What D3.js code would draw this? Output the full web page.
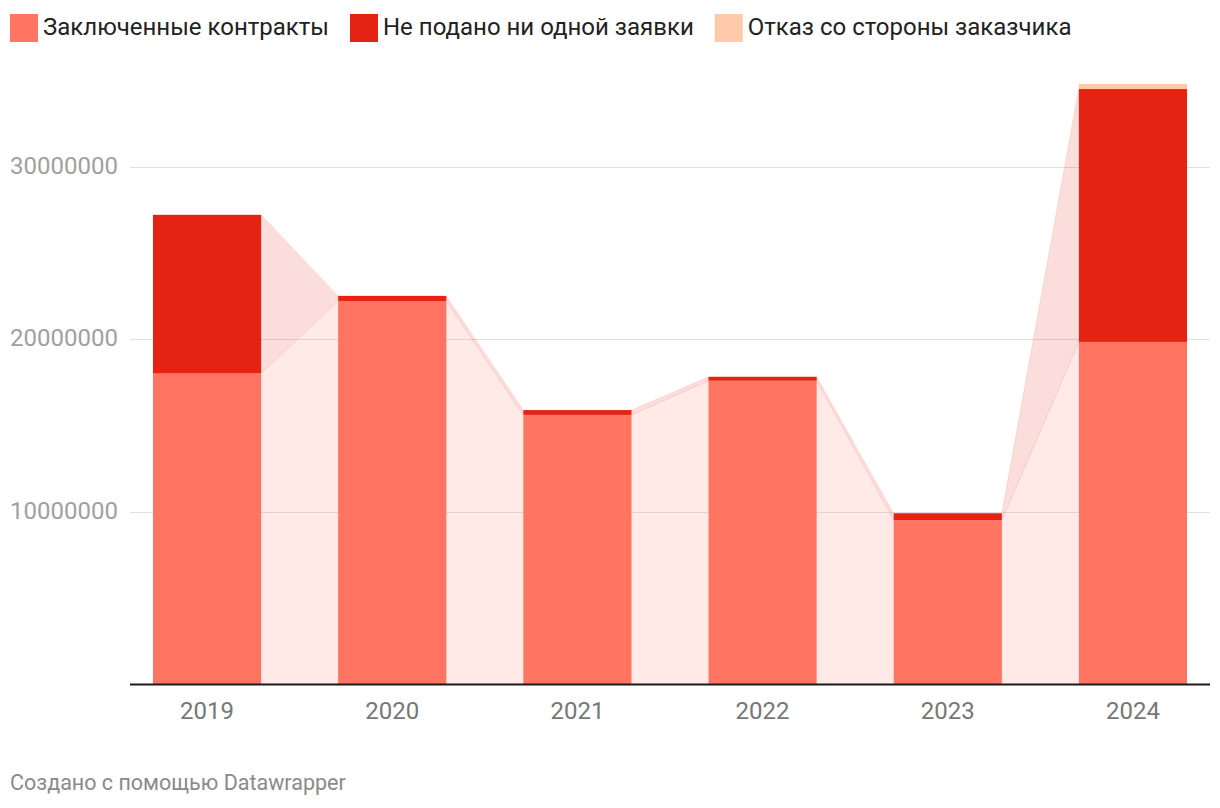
<!DOCTYPE html>
<html><head><meta charset="utf-8">
<script src="https://cdn.jsdelivr.net/npm/d3@7"></script>
<style>body{margin:0;background:#fff;font-family:Roboto,"Noto Sans",sans-serif;}svg{display:block}</style>
</head><body><svg id="c" width="1220" height="808"></svg>
<script>
const years = ["2019","2020","2021","2022","2023","2024"];
const seriesNames = ["Заключенные контракты","Не подано ни одной заявки","Отказ со стороны заказчика"];
const contracts = [18000000, 22200000, 15600000, 17580000, 9500000, 19830000];
const noBids = [9200000, 300000, 280000, 230000, 400000, 14660000];
const refusals = [0, 0, 0, 0, 0, 290000];
const yTicks = [10000000, 20000000, 30000000];
const colors = ["#ff7561", "#e52313", "#ffcaa9"];
const footerText = "Создано с помощью Datawrapper";

const svg = d3.select("#c");
const left = 130, right = 1210, baseY = 684;
const x = d3.scaleBand().domain(years).range([left, right]).paddingInner(0.416).paddingOuter(0.124);
const y = d3.scaleLinear().domain([0, 35000000]).range([baseY, baseY - 35 * 17.25]);

// gridlines
const grid = svg.append("g");
yTicks.forEach(t => {
  grid.append("line").attr("x1", left).attr("x2", right).attr("y1", Math.round(y(t)) + 0.5).attr("y2", Math.round(y(t)) + 0.5)
    .attr("stroke", "#e0e0e0").attr("stroke-width", 1);
  grid.append("text").attr("x", 10).attr("y", y(t) - 1).attr("dy", "0.35em")
    .attr("font-size", 24).attr("fill", "#a0a0a0").text(String(t));
});

const data = years.map((yr, i) => ({year: yr, contracts: contracts[i], noBids: noBids[i], refusals: refusals[i]}));
const stack = d3.stack().keys(["contracts", "noBids", "refusals"])(data);

// connectors
const cg = svg.append("g");
stack.forEach((s, si) => {
  for (let i = 0; i < s.length - 1; i++) {
    const a = s[i], b = s[i + 1];
    if (a[1] - a[0] <= 0 && b[1] - b[0] <= 0) continue;
    const x0 = x(years[i]) + x.bandwidth(), x1 = x(years[i + 1]);
    const pts = [[x0, y(a[1])], [x1, y(b[1])], [x1, y(b[0])], [x0, y(a[0])]];
    cg.append("path").attr("d", "M" + pts.map(p => p.join(",")).join("L") + "Z")
      .attr("fill", colors[si]).attr("fill-opacity", 0.15)
      .attr("stroke", colors[si]).attr("stroke-opacity", 0.08).attr("stroke-width", 1);
  }
});

// bars
const bg = svg.append("g");
stack.forEach((s, si) => {
  bg.selectAll(null).data(s.filter(d => d[1] - d[0] > 0)).enter().append("rect")
    .attr("x", d => x(d.data.year)).attr("width", x.bandwidth())
    .attr("y", d => y(d[1])).attr("height", d => y(d[0]) - y(d[1]))
    .attr("fill", colors[si]);
});

// x axis
svg.append("line").attr("x1", left).attr("x2", right).attr("y1", baseY + 0.5).attr("y2", baseY + 0.5)
  .attr("stroke", "#1a1a1a").attr("stroke-width", 2);
const xa = svg.append("g").attr("transform", `translate(0,${baseY})`)
  .call(d3.axisBottom(x).tickSize(0).tickPadding(0));
xa.select(".domain").remove();
xa.selectAll("text").attr("font-size", 24).attr("fill", "#777").attr("font-family", "Roboto").attr("y", 18).attr("dy", "0.71em");

// legend
const lg = svg.append("g");
let lx = 10;
seriesNames.forEach((n, i) => {
  lg.append("rect").attr("x", lx).attr("y", 14).attr("width", 28).attr("height", 28).attr("fill", colors[i]);
  const t = lg.append("text").attr("x", lx + 33).attr("y", 27).attr("dy", "0.35em")
    .attr("font-size", 24).attr("fill", "#222").text(n);
  lx += 33 + t.node().getComputedTextLength() + 21;
});

// footer
svg.append("text").attr("x", 10).attr("y", 782).attr("dy", "0.35em").attr("font-size", 21.5).attr("fill", "#8a8a8a").text(footerText);
</script></body></html>
